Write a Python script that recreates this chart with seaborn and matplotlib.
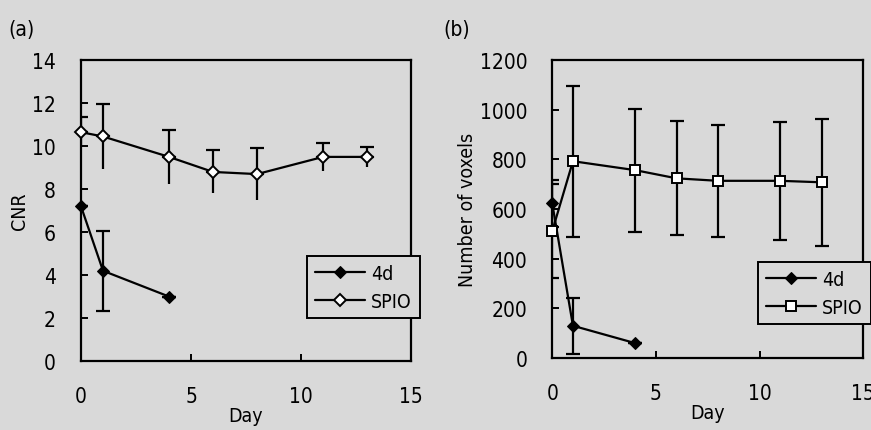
import numpy as np
import pandas as pd
import matplotlib
matplotlib.use("Agg")
import matplotlib.pyplot as plt
import seaborn as sns

# --- data ---
days_4d = [0, 1, 4]
days_spio = [0, 1, 4, 6, 8, 11, 13]

cnr_4d = [7.2, 4.2, 3.0]
cnr_4d_err = [0.0, 1.85, 0.0]
cnr_spio = [10.65, 10.45, 9.5, 8.8, 8.7, 9.5, 9.5]
cnr_spio_err = [0.7, 1.5, 1.25, 1.0, 1.2, 0.65, 0.45]

vox_4d = [624, 130, 60]
vox_4d_err = [95, 113, 0]
vox_spio = [511, 793, 757, 724, 714, 714, 708]
vox_spio_err = [190, 305, 248, 230, 225, 238, 255]

BG = "#d9d9d9"

sns.set_style("ticks")
plt.rcParams['font.family'] = ['DejaVu Sans']
plt.rcParams['font.stretch'] = 'condensed'
plt.rcParams['text.color'] = 'black'
plt.rcParams['axes.labelcolor'] = 'black'
plt.rcParams['axes.linewidth'] = 1.6

fig = plt.figure(figsize=(8.71, 4.31), dpi=100, facecolor=BG)
ax1 = fig.add_axes([0.093, 0.160, 0.379, 0.698], facecolor=BG)
ax2 = fig.add_axes([0.634, 0.167, 0.357, 0.691], facecolor=BG)


def draw_panel(ax, y4, e4, ys, es, spio_marker, top_caps_only):
    # error bars first, so markers sit on top
    ax.errorbar(days_4d, y4, yerr=e4, fmt='none', ecolor='black',
                elinewidth=1.6, capsize=5, capthick=1.6, zorder=2)
    if top_caps_only:
        ax.errorbar(days_spio, ys, yerr=[np.zeros(len(es)), es], fmt='none',
                    ecolor='black', elinewidth=1.6, capsize=5, capthick=1.6,
                    zorder=2)
        ax.errorbar(days_spio, ys, yerr=[es, np.zeros(len(es))], fmt='none',
                    ecolor='black', elinewidth=1.6, capsize=0, zorder=2)
    else:
        ax.errorbar(days_spio, ys, yerr=es, fmt='none', ecolor='black',
                    elinewidth=1.6, capsize=5, capthick=1.6, zorder=2)

    df4 = pd.DataFrame({'Day': days_4d, 'v': y4})
    dfs = pd.DataFrame({'Day': days_spio, 'v': ys})
    sns.lineplot(data=df4, x='Day', y='v', ax=ax, color='black', lw=1.6,
                 marker='D', markersize=6.5, markerfacecolor='black',
                 markeredgecolor='black', label='4d', zorder=3, clip_on=False)
    sns.lineplot(data=dfs, x='Day', y='v', ax=ax, color='black', lw=1.6,
                 marker=spio_marker, markersize=7 if spio_marker == 's' else 6.5,
                 markerfacecolor='white', markeredgecolor='black',
                 markeredgewidth=1.4, label='SPIO', zorder=3, clip_on=False)

    ax.set_xlim(0, 15)
    ax.set_xticks([0, 5, 10, 15])
    for s in ax.spines.values():
        s.set_visible(True)
        s.set_color('black')
    ax.tick_params(direction='in', length=5, width=1.4, pad=18,
                   labelsize=15, colors='black')
    ax.set_xlabel('Day', fontsize=14, labelpad=0)


draw_panel(ax1, cnr_4d, cnr_4d_err, cnr_spio, cnr_spio_err, 'D', True)
ax1.set_ylim(0, 14)
ax1.set_yticks(np.arange(0, 15, 2))
ax1.set_ylabel('CNR', fontsize=14, labelpad=2)

draw_panel(ax2, vox_4d, vox_4d_err, vox_spio, vox_spio_err, 's', False)
ax2.set_ylim(0, 1200)
ax2.set_yticks(np.arange(0, 1201, 200))
ax2.set_ylabel('Number of voxels', fontsize=14, labelpad=2)

for ax, anchor in [(ax1, (307 / 871, 1 - 257 / 431)), (ax2, (758 / 871, 1 - 263 / 431))]:
    leg = ax.legend(loc='upper left', bbox_to_anchor=anchor,
                    bbox_transform=fig.transFigure, fontsize=14,
                    frameon=True, fancybox=False, handlelength=2.6,
                    handletextpad=0.3, borderpad=0.4, labelspacing=0.45,
                    borderaxespad=0)
    leg.get_frame().set_edgecolor('black')
    leg.get_frame().set_linewidth(1.4)
    leg.get_frame().set_facecolor(BG)
    leg.get_frame().set_alpha(1)
    leg.set_zorder(5)

fig.text(8 / 871, 1 - 30 / 431, '(a)', fontsize=15, va='center', ha='left')
fig.text(443 / 871, 1 - 30 / 431, '(b)', fontsize=15, va='center', ha='left')

fig.savefig('out.png', dpi=100, facecolor=BG)
